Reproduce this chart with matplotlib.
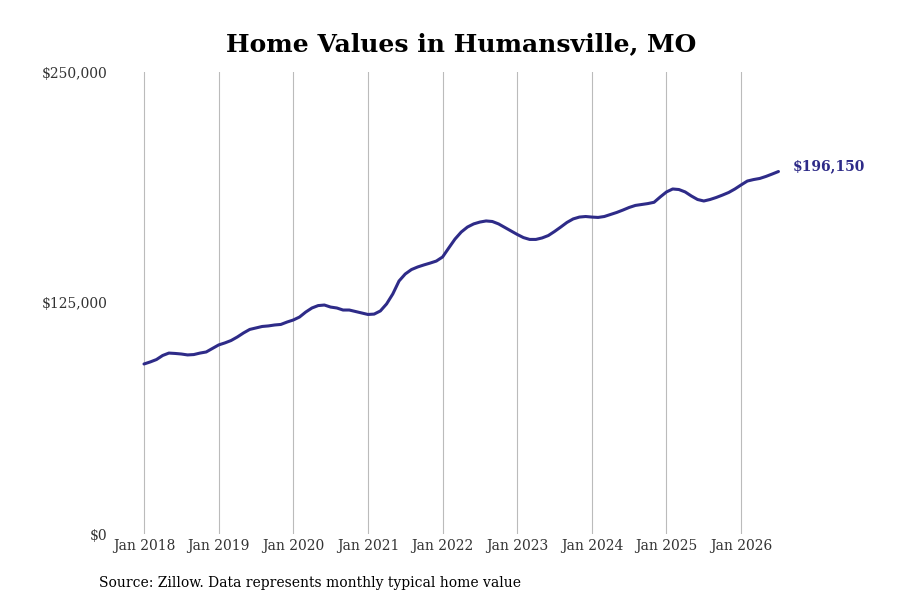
import matplotlib
matplotlib.use("Agg")
import matplotlib.pyplot as plt
import numpy as np

plt.rcParams['font.family'] = ['DejaVu Serif']

# Monthly typical home value, Jan 2018 .. Jul 2026
values_2018 = [92000, 93100, 94400, 96600, 97900, 97700, 97400, 96900, 97100, 97900, 98500, 100400]
values_2019 = [102300, 103400, 104700, 106600, 108800, 110700, 111500, 112300, 112600, 113100, 113400, 114700]
values_2020 = [115800, 117400, 120100, 122300, 123600, 123900, 122800, 122300, 121200, 121200, 120400, 119600]
values_2021 = [118800, 119000, 120700, 124500, 129900, 136900, 140700, 143100, 144500, 145600, 146600, 147700]
values_2022 = [149900, 154800, 159600, 163400, 166100, 167800, 168800, 169400, 169100, 167800, 165900, 164000]
values_2023 = [162100, 160400, 159400, 159400, 160200, 161500, 163700, 166100, 168600, 170500, 171500, 171800]
values_2024 = [171500, 171300, 171800, 172900, 174000, 175300, 176700, 177800, 178300, 178800, 179500, 182400]
values_2025 = [185100, 186700, 186400, 185100, 182900, 181000, 180200, 181000, 182100, 183400, 184800, 186700]
values_2026 = [188900, 191000, 191800, 192400, 193500, 194800, 196150]

values = (values_2018 + values_2019 + values_2020 + values_2021 + values_2022 +
          values_2023 + values_2024 + values_2025 + values_2026)
tick_labels = ["Jan 2018", "Jan 2019", "Jan 2020", "Jan 2021", "Jan 2022",
               "Jan 2023", "Jan 2024", "Jan 2025", "Jan 2026"]
y_ticks = [0, 125000, 250000]
y_tick_labels = ["$0", "$125,000", "$250,000"]
last_label = "$196,150"

line_color = "#2e2b88"

fig = plt.figure(figsize=(9, 6), dpi=100)
ax = fig.add_axes([0.1222, 0.11, 0.7556, 0.77])
x = np.arange(len(values))
ax.plot(x, values, color=line_color, lw=2.2, solid_capstyle='round',
        solid_joinstyle='round', zorder=3)

ax.set_ylim(0, 250000)
ax.set_xlim(-5.47, 103.86)
ax.set_xticks(np.arange(len(tick_labels)) * 12)
ax.set_xticklabels(tick_labels)
ax.set_yticks(y_ticks)
ax.set_yticklabels(y_tick_labels)
ax.tick_params(axis='both', length=0, labelsize=10, labelcolor="#333333")
ax.tick_params(axis='x', pad=3.5)
ax.tick_params(axis='y', pad=2)
ax.grid(axis='x', color="#bbbbbb", lw=0.8)
ax.grid(axis='y', visible=False)
for s in ax.spines.values():
    s.set_visible(False)

ax.annotate(last_label, xy=(x[-1], values[-1]), xytext=(10, 4), textcoords='offset points',
            color=line_color, fontsize=10, fontweight='bold', va='center', ha='left',
            annotation_clip=False)

fig.text(0.512, 0.926, "Home Values in Humansville, MO", ha='center', va='center',
         fontsize=18, fontweight='bold', color='black')
fig.text(0.11, 0.029, "Source: Zillow. Data represents monthly typical home value",
         ha='left', va='center', fontsize=10, color='black')

fig.savefig("out.png", dpi=100)
